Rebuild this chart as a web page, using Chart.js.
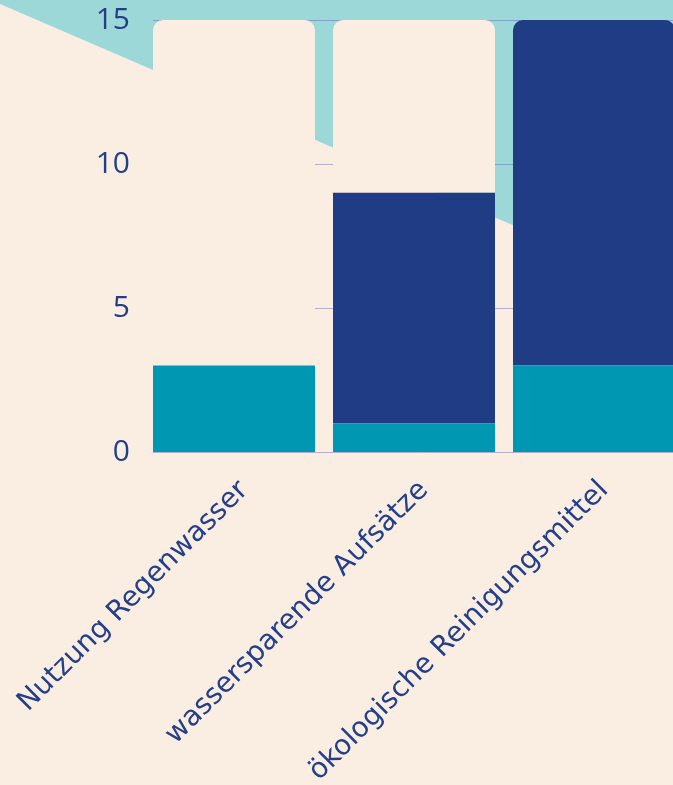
<!DOCTYPE html>
<html>
<head>
<meta charset="utf-8">
<script src="https://cdn.jsdelivr.net/npm/chart.js@4"></script>
<style>
  html, body { margin: 0; padding: 0; background: #FAEDE2; overflow: hidden; }
  #wrap { position: relative; width: 690px; height: 785px; }
</style>
</head>
<body>
<div id="wrap"><canvas id="myChart"></canvas></div>
<script>
// values
const categories = ['Nutzung Regenwasser', 'wassersparende Aufsätze', 'ökologische Reinigungsmittel']
const tealValues = [3, 1, 3]
const blueValues = [0, 8, 12]
const restValues = [12, 6, 0]
const yTicks = [0, 5, 10, 15]

const beige = '#FAEDE2'
const lightTeal = '#9DD8D8'
const textBlue = '#233F8A'

// beige page with the teal wedge at the top
const backdrop = {
  id: 'backdrop',
  beforeDraw(chart) {
    const ctx = chart.ctx
    const w = chart.width, h = chart.height
    ctx.save()
    ctx.fillStyle = beige
    ctx.fillRect(0, 0, w, h)
    ctx.fillStyle = lightTeal
    ctx.beginPath()
    ctx.moveTo(0, 0)
    ctx.lineTo(w, 0)
    ctx.lineTo(w, 4 + 0.431 * w)
    ctx.lineTo(0, 4)
    ctx.closePath()
    ctx.fill()
    ctx.restore()
  }
}

// grid lines start at the first bar, not at the axis
const gridLines = {
  id: 'gridLines',
  beforeDatasetsDraw(chart) {
    const ctx = chart.ctx
    const y = chart.scales.y
    const bar = chart.getDatasetMeta(0).data[0]
    const x0 = bar.x - bar.width / 2
    ctx.save()
    ctx.strokeStyle = 'rgba(80, 80, 170, 0.4)'
    ctx.lineWidth = 1
    for (let t of yTicks) {
      const py = Math.round(y.getPixelForValue(t)) + 0.5
      ctx.beginPath()
      ctx.moveTo(x0, py)
      ctx.lineTo(chart.chartArea.right, py)
      ctx.stroke()
    }
    ctx.restore()
  }
}

const ctx = document.getElementById('myChart').getContext('2d')
const chart = new Chart(ctx, {
  type: 'bar',
  data: {
    labels: categories,
    datasets: [
      { label: 'teal', data: tealValues, backgroundColor: '#0097B2', borderRadius: 10 },
      { label: 'blau', data: blueValues, backgroundColor: '#1F3C85', borderRadius: 10 },
      { label: 'rest', data: restValues, backgroundColor: beige, borderRadius: 10 }
    ]
  },
  options: {
    responsive: true,
    maintainAspectRatio: false,
    animation: false,
    layout: { padding: { top: 20, left: 0, right: 6, bottom: 0 } },
    datasets: { bar: { barPercentage: 0.9, categoryPercentage: 1 } },
    plugins: { legend: { display: false }, tooltip: { enabled: false } },
    scales: {
      x: {
        stacked: true,
        grid: { display: false, drawTicks: false },
        border: { display: false },
        ticks: {
          color: textBlue,
          font: { family: 'DejaVu Sans', size: 28 },
          minRotation: 45,
          maxRotation: 45,
          autoSkip: false,
          padding: 22,
          labelOffset: 10
        },
        afterFit(s) {
          s.height = 333
          s.paddingLeft = 0
          s.paddingRight = 0
        }
      },
      y: {
        stacked: true,
        min: 0,
        max: 15,
        grid: { display: false, drawTicks: false },
        border: { display: false },
        afterBuildTicks(s) {
          s.ticks = yTicks.map(v => ({ value: v }))
        },
        ticks: {
          color: textBlue,
          font: { family: 'Open Sans', size: 30 },
          padding: 14
        },
        afterFit(s) {
          s.width = 144
          s.paddingTop = 0
          s.paddingBottom = 0
        }
      }
    }
  },
  plugins: [backdrop, gridLines]
})
</script>
</body>
</html>
